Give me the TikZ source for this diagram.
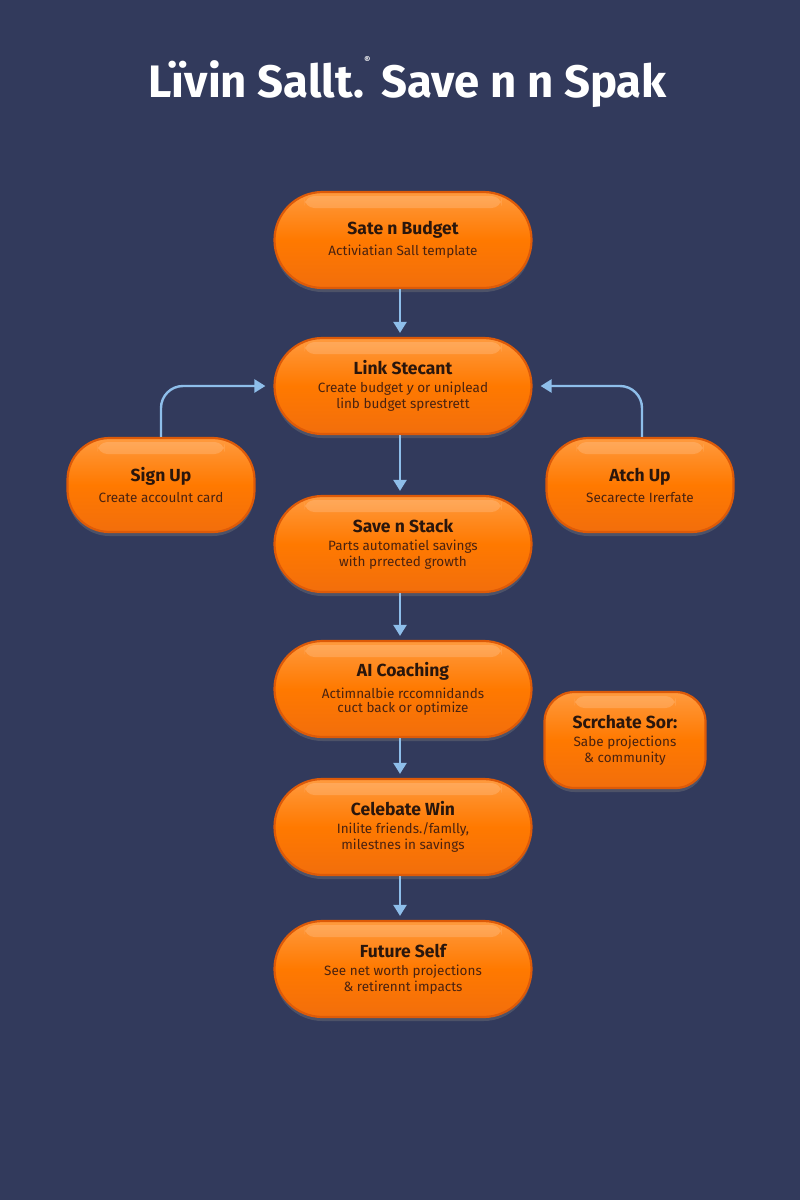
\documentclass[tikz,border=0pt]{standalone}
\usepackage{fontspec}
\setmainfont{Fira Sans}
\usetikzlibrary{arrows.meta,shadows,shapes.misc}
\definecolor{bg}{HTML}{323A5C}
\definecolor{orgtop}{HTML}{FF9A3E}
\definecolor{orgbot}{HTML}{F26E0C}
\definecolor{orgline}{HTML}{DD5A08}
\definecolor{ink}{HTML}{2A160C}
\definecolor{subink}{HTML}{4A2210}
\definecolor{arr}{HTML}{8EBEEA}
\tikzset{
  card/.style={rounded corners=45pt, top color=orgtop, bottom color=orgbot, middle color=orange!95!red,
    draw=orgline, line width=2.2pt, align=center, inner sep=0pt,
    drop shadow={opacity=0.35, shadow xshift=0pt, shadow yshift=-4pt},
    path picture={\fill[white,opacity=0.16,rounded corners=10pt]
      ([xshift=30pt,yshift=-4pt]path picture bounding box.north west) rectangle
      ([xshift=-30pt,yshift=-16pt]path picture bounding box.north east);}},
  bigcard/.style={card, rounded rectangle, rounded corners=0pt, minimum width=257pt, minimum height=96pt},
  sidecard/.style={card, minimum width=187pt, minimum height=94pt, rounded corners=42pt},
  flow/.style={draw=arr, line width=2.4pt, -{Triangle[length=11pt,width=13pt]}},
}
\newcommand{\ttl}[1]{\fontsize{17.5}{21}\selectfont\bfseries\color{ink}#1}
\newcommand{\sbl}{\fontsize{13.5}{17}\selectfont\mdseries\color{subink}}
\begin{document}
\begin{tikzpicture}[x=1pt,y=-1pt]
\fill[bg] (0,0) rectangle (800,1200);
\useasboundingbox (0,0) rectangle (800,1200);
\node[text=white, font=\fontsize{44}{50}\selectfont\bfseries] (title) at (408,82)
  {\resizebox{518pt}{!}{Lïvin Sallt.\raisebox{0.75em}{\fontsize{9}{9}\selectfont ®} Save n n Spak}};
\node[bigcard] (budget) at (403,240) {\ttl{Sate n Budget}\\[6pt]\sbl Activiatian Sall template};
\node[bigcard] (link) at (403,386) {\ttl{Link Stecant}\\[6pt]\sbl Create budget \textit{y} or uniplead\\[2pt]\sbl linb budget sprestrett};
\node[sidecard] (signup) at (161,485) {\ttl{Sign Up}\\[6pt]\sbl Create accoulnt card};
\node[sidecard] (atch) at (640,485) {\ttl{Atch Up}\\[6pt]\sbl Secarecte Irerfate};
\node[bigcard] (stack) at (403,544) {\ttl{Save n Stack}\\[6pt]\sbl Parts automatiel savings\\[2pt]\sbl with prrected growth};
\node[bigcard] (coach) at (403,689) {\ttl{AI Coaching}\\[6pt]\sbl Actimnalbie rccomnidands\\[2pt]\sbl cuct back or optimize};
\node[card, minimum width=161pt, minimum height=96pt, rounded corners=30pt] (scr) at (625,740) {\ttl{Scrchate Sor:}\\[6pt]\sbl Sabe projections\\[2pt]\sbl \& community};
\node[bigcard] (win) at (403,827) {\ttl{Celebate Win}\\[6pt]\sbl Inilite friends./famlly,\\[2pt]\sbl milestnes in savings};
\node[bigcard] (future) at (403,969) {\ttl{Future Self}\\[6pt]\sbl See net worth projections\\[2pt]\sbl \& retirennt impacts};
\draw[flow] ([xshift=-3pt]budget.south) -- ([xshift=-3pt,yshift=4pt]link.north);
\draw[flow] ([xshift=-3pt]link.south) -- ([xshift=-3pt,yshift=4pt]stack.north);
\draw[flow] ([xshift=-3pt]stack.south) -- ([xshift=-3pt,yshift=4pt]coach.north);
\draw[flow] ([xshift=-3pt]coach.south) -- ([xshift=-3pt,yshift=4pt]win.north);
\draw[flow] ([xshift=-3pt]win.south) -- ([xshift=-3pt,yshift=4pt]future.north);
\draw[flow, rounded corners=22pt, shorten >=8pt] (signup.north) |- (link.west);
\draw[flow, rounded corners=22pt, shorten >=8pt] ([xshift=2pt]atch.north) |- (link.east);
\end{tikzpicture}
\end{document}
